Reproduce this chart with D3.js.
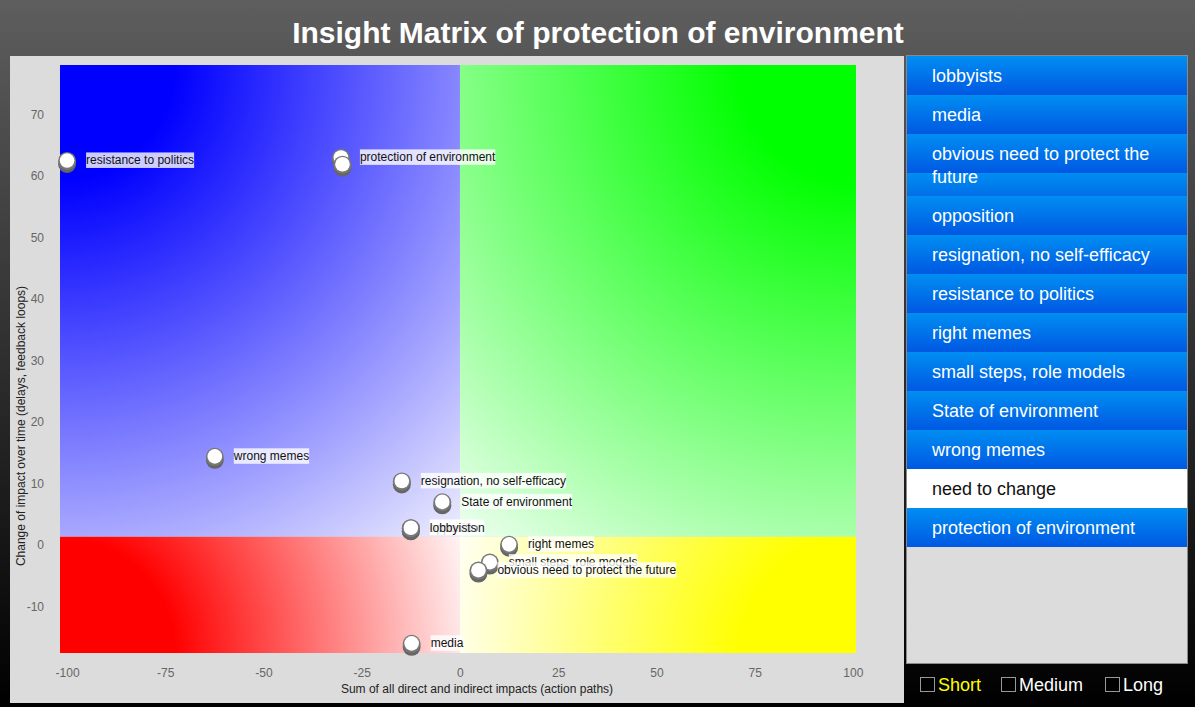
<!DOCTYPE html>
<html><head><meta charset="utf-8">
<script src="https://cdn.jsdelivr.net/npm/d3@7"></script>
<style>
html,body{margin:0;padding:0;background:#000;overflow:hidden;}
svg{display:block;font-family:"Liberation Sans",Arial,Helvetica,sans-serif;}
</style></head><body>
<svg id="chart" width="1195" height="707"></svg>
<script>
// ---------- data ----------
const chartTitle = "Insight Matrix of protection of environment";
const xAxisLabel = "Sum of all direct and indirect impacts (action paths)";
const yAxisLabel = "Change of impact over time (delays, feedback loops)";
const xTicks = [-100, -75, -50, -25, 0, 25, 50, 75, 100];
const yTicks = [-10, 0, 10, 20, 30, 40, 50, 60, 70];
const xDomain = [-101.8, 100.8];
const yDomain = [-17.6, 78];
const xSplit = 0;
const ySplit = 1.3;

// points in drawing order
const pointNames = ["resistance to politics", "protection of environment", "need to change", "wrong memes",
  "resignation, no self-efficacy", "State of environment", "opposition", "lobbyists", "right memes",
  "small steps, role models", "obvious need to protect the future", "media"];
const pointX = [-100, -30.3, -29.9, -62.4, -14.8, -4.5, -12.5, -12.5, 12.5, 7.6, 4.7, -12.3];
const pointY = [62.4, 62.9, 61.8, 14.3, 10.3, 6.9, 2.7, 2.7, 0.0, -2.9, -4.2, -16.1];

const listItems = ["lobbyists", "media", "obvious need to protect the future", "opposition",
  "resignation, no self-efficacy", "resistance to politics", "right memes", "small steps, role models",
  "State of environment", "wrong memes", "need to change", "protection of environment"];
const selectedItem = "need to change";
const timeOptions = ["Short", "Medium", "Long"];
const activeTime = "Short";

// ---------- drawing ----------
const W = 1195, H = 707;
const svg = d3.select("#chart");
const defs = svg.append("defs");

const bg = defs.append("linearGradient").attr("id", "bg").attr("x1", 0).attr("y1", 0).attr("x2", 0).attr("y2", 1);
bg.append("stop").attr("offset", 0).attr("stop-color", "#5e5e5e");
bg.append("stop").attr("offset", 1).attr("stop-color", "#000");
svg.append("rect").attr("width", W).attr("height", H).attr("fill", "url(#bg)");

svg.append("text").attr("x", 598).attr("y", 43).attr("text-anchor", "middle")
  .attr("fill", "#fff").attr("font-size", 30).attr("font-weight", "bold").text(chartTitle);

// plot panel
svg.append("rect").attr("x", 10).attr("y", 56).attr("width", 894).attr("height", 647).attr("fill", "#dcdcdc");

const x = d3.scaleLinear().domain(xDomain).range([60, 856]);
const y = d3.scaleLinear().domain(yDomain).range([653, 65]);

const ox = x(xSplit), oy = y(ySplit);
const quads = [
  {id: "qb", x0: x(xDomain[0]), x1: ox, y0: y(yDomain[1]), y1: oy, cx: x(xDomain[0]), cy: y(yDomain[1]), c: "#0000ff", w: "#eeeeff"},
  {id: "qg", x0: ox, x1: x(xDomain[1]), y0: y(yDomain[1]), y1: oy, cx: x(xDomain[1]), cy: y(yDomain[1]), c: "#00ff00", w: "#eefff0"},
  {id: "qr", x0: x(xDomain[0]), x1: ox, y0: oy, y1: y(yDomain[0]), cx: x(xDomain[0]), cy: y(yDomain[0]), c: "#ff0000", w: "#fff4f4"},
  {id: "qy", x0: ox, x1: x(xDomain[1]), y0: oy, y1: y(yDomain[0]), cx: x(xDomain[1]), cy: y(yDomain[0]), c: "#ffff00", w: "#fffff4"}
];
quads.forEach(q => {
  const r = Math.hypot(ox - q.cx, oy - q.cy);
  const g = defs.append("radialGradient").attr("id", q.id).attr("gradientUnits", "userSpaceOnUse")
    .attr("cx", q.cx).attr("cy", q.cy).attr("r", r);
  g.append("stop").attr("offset", 0).attr("stop-color", q.c);
  g.append("stop").attr("offset", 115 / r).attr("stop-color", q.c);
  g.append("stop").attr("offset", 1).attr("stop-color", q.w);
  svg.append("rect").attr("x", q.x0).attr("y", q.y0).attr("width", q.x1 - q.x0).attr("height", q.y1 - q.y0)
    .attr("fill", `url(#${q.id})`);
});

// axes
const fmt = d => String(d);
const xAxis = svg.append("g").attr("transform", `translate(0,653)`)
  .call(d3.axisBottom(x).tickValues(xTicks).tickSize(0).tickPadding(15).tickFormat(fmt));
const yAxis = svg.append("g").attr("transform", `translate(60,0)`)
  .call(d3.axisLeft(y).tickValues(yTicks).tickSize(0).tickPadding(16).tickFormat(fmt));
[xAxis, yAxis].forEach(a => {
  a.select(".domain").remove();
  a.selectAll("text").attr("font-size", 12).attr("fill", "#666").attr("font-family", "Liberation Sans, Arial, sans-serif");
});

svg.append("text").attr("x", 477).attr("y", 693).attr("text-anchor", "middle")
  .attr("font-size", 12).attr("fill", "#222").text(xAxisLabel);
svg.append("text").attr("transform", "translate(25,426) rotate(-90)").attr("text-anchor", "middle")
  .attr("font-size", 12).attr("fill", "#222").text(yAxisLabel);

// points
const pts = pointNames.map((n, i) => ({name: n, x: pointX[i], y: pointY[i]}));
const pg = svg.append("g").selectAll("g").data(pts).join("g")
  .attr("transform", d => `translate(${x(d.x)},${y(d.y)})`);
pg.append("circle").attr("cy", 3).attr("r", 9).attr("fill", "#666");
pg.append("circle").attr("cy", 0).attr("r", 9).attr("fill", "#787878");
pg.append("circle").attr("cy", -0.4).attr("r", 7.3).attr("fill", "#fff");
pg.filter(d => d.name !== selectedItem).each(function(d) {
  const g = d3.select(this);
  const rect = g.append("rect").attr("x", 19).attr("y", -8.5).attr("height", 15.5).attr("fill", "#fff").attr("fill-opacity", 0.8);
  const t = g.append("text").attr("x", 19).attr("y", 3.5).attr("font-size", 12).attr("fill", "#111").text(d.name);
  rect.attr("width", t.node().getComputedTextLength());
});

// list panel
const LX = 907, LY = 56, LW = 280, LB = 663;
svg.append("rect").attr("x", LX - 0.5).attr("y", LY - 0.5).attr("width", LW + 1).attr("height", LB - LY + 1)
  .attr("fill", "#dcdcdc").attr("stroke", "#8a8a8a").attr("stroke-width", 1);
const rowGrad = defs.append("linearGradient").attr("id", "rowg").attr("x1", 0).attr("y1", 0).attr("x2", 0).attr("y2", 1);
rowGrad.append("stop").attr("offset", 0).attr("stop-color", "#008ef2");
rowGrad.append("stop").attr("offset", 1).attr("stop-color", "#0058e2");
const pat = defs.append("pattern").attr("id", "rowpat").attr("patternUnits", "userSpaceOnUse")
  .attr("x", 0).attr("y", 0).attr("width", LW).attr("height", 39);
pat.append("rect").attr("width", LW).attr("height", 39).attr("fill", "url(#rowg)");

const measure = svg.append("text").attr("font-size", 18).attr("visibility", "hidden");
function wrap(str, maxW) {
  const words = str.split(" ");
  const lines = [];
  let cur = "";
  words.forEach(w => {
    const test = cur ? cur + " " + w : w;
    measure.text(test);
    if (measure.node().getComputedTextLength() > maxW && cur) { lines.push(cur); cur = w; }
    else cur = test;
  });
  if (cur) lines.push(cur);
  return lines;
}
let rowTop = LY;
listItems.forEach(name => {
  const lines = wrap(name, 240);
  const h = 16 + 23 * lines.length;
  const sel = name === selectedItem;
  const g = svg.append("g").attr("transform", `translate(${LX},${rowTop})`);
  g.append("rect").attr("width", LW).attr("height", h).attr("fill", sel ? "#fff" : "url(#rowpat)");
  lines.forEach((ln, i) => {
    g.append("text").attr("x", 25).attr("y", 25.8 + 23 * i).attr("font-size", 18)
      .attr("fill", sel ? "#111" : "#fff").text(ln);
  });
  rowTop += h;
});
measure.remove();

// time options
const optX = [920, 1001, 1105];
timeOptions.forEach((o, i) => {
  svg.append("rect").attr("x", optX[i] + 0.5).attr("y", 677.5).attr("width", 14).attr("height", 14)
    .attr("fill", "#000").attr("stroke", "#999");
  svg.append("text").attr("x", optX[i] + 18).attr("y", 691).attr("font-size", 18)
    .attr("fill", o === activeTime ? "#ffff00" : "#fff").text(o);
});
</script>
</body></html>
